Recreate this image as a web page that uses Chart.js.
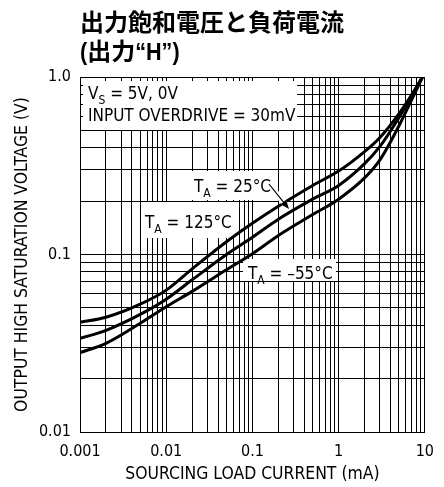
<!DOCTYPE html>
<html lang="ja">
<head>
<meta charset="utf-8">
<title>出力飽和電圧と負荷電流</title>
<script src="https://cdn.jsdelivr.net/npm/chart.js@4.4.1/dist/chart.umd.min.js"></script>
<style>
  html, body { margin: 0; padding: 0; background: #fff; }
  canvas { display: block; }
</style>
</head>
<body>
<canvas id="satChart" width="444" height="487"></canvas>
<script>
// sourcing load current (mA)
const currentMA = [0.001, 0.002, 0.005, 0.01, 0.02, 0.05, 0.1, 0.2, 0.5, 1, 2, 3, 5, 7, 9.4];
// output high saturation voltage (V) per ambient temperature
const vsat125 = [0.0415, 0.0443, 0.0525, 0.063, 0.083, 0.118, 0.150, 0.187, 0.245, 0.295, 0.38, 0.455, 0.62, 0.79, 1.0];
const vsat25  = [0.0337, 0.0374, 0.0460, 0.056, 0.072, 0.100, 0.125, 0.158, 0.205, 0.245, 0.325, 0.405, 0.59, 0.78, 1.0];
const vsatM55 = [0.0280, 0.0316, 0.0410, 0.0508, 0.062, 0.082, 0.101, 0.128, 0.168, 0.205, 0.27, 0.34, 0.53, 0.74, 1.0];

const xTickLabels = ['0.001', '0.01', '0.1', '1', '10'];
const yTickLabels = ['0.01', '0.1', '1.0'];

const FONT = '"DejaVu Sans Condensed", "Liberation Sans Narrow", sans-serif';

// 1..9 per decade so that every grid line is drawn
function logGrid(min, max) {
  const out = [];
  for (let d = Math.log10(min); d < Math.log10(max); d++) {
    for (let m = 1; m <= 9; m++) out.push(+(m * Math.pow(10, d)).toPrecision(3));
  }
  out.push(max);
  return out;
}

function isDecade(v) {
  const l = Math.log10(v);
  return Math.abs(l - Math.round(l)) < 1e-9;
}

function toPoints(ys) {
  return currentMA.map((x, i) => ({ x: x, y: ys[i] }));
}

// T with a subscript, then the rest of the text
function subText(ctx, x, y, main, sub, rest, size) {
  ctx.font = size + 'px ' + FONT;
  ctx.fillText(main, x, y);
  x += ctx.measureText(main).width;
  ctx.font = Math.round(size * 0.72) + 'px ' + FONT;
  ctx.fillText(sub, x, y + size * 0.28);
  x += ctx.measureText(sub).width;
  ctx.font = size + 'px ' + FONT;
  ctx.fillText(rest, x, y);
}

// one piece of the title, optionally squeezed horizontally
function titleRun(ctx, x, y, text, font, sx) {
  ctx.font = font;
  ctx.save();
  ctx.translate(x, y);
  ctx.scale(sx, 1);
  ctx.fillText(text, 0, 0);
  ctx.restore();
  return x + ctx.measureText(text).width * sx;
}

const notes = {
  id: 'notes',
  beforeDatasetsDraw(chart) {
    const ctx = chart.ctx;
    ctx.save();
    ctx.fillStyle = '#fff';
    ctx.fillRect(83, 81, 214, 49);    // conditions box
    ctx.fillRect(189, 171, 82, 29);   // 25°C
    ctx.fillRect(141, 202, 93, 36);   // 125°C
    ctx.fillRect(243, 259, 93, 22);   // -55°C
    ctx.restore();
  },
  afterDatasetsDraw(chart) {
    const ctx = chart.ctx;
    ctx.save();
    ctx.fillStyle = '#000';
    ctx.textBaseline = 'alphabetic';

    subText(ctx, 88, 99, 'V', 'S', ' = 5V, 0V', 17);
    ctx.font = '17px ' + FONT;
    ctx.fillText('INPUT OVERDRIVE = 30mV', 88, 121);

    subText(ctx, 194, 192, 'T', 'A', ' = 25°C', 17);
    subText(ctx, 145, 228, 'T', 'A', ' = 125°C', 17);
    subText(ctx, 248, 279, 'T', 'A', ' = \u201355°C', 17);

    // arrow to the 25°C curve
    const x0 = 269, y0 = 184, x1 = 289, y1 = 209;
    const ang = Math.atan2(y1 - y0, x1 - x0);
    ctx.lineCap = 'butt';
    ctx.strokeStyle = '#fff';
    ctx.lineWidth = 6;
    ctx.beginPath();
    ctx.moveTo(x0 + 10 * Math.cos(ang), y0 + 10 * Math.sin(ang));
    ctx.lineTo(x1, y1);
    ctx.stroke();
    ctx.strokeStyle = '#000';
    ctx.lineWidth = 1.2;
    ctx.beginPath();
    ctx.moveTo(x0, y0);
    ctx.lineTo(x1 - 6 * Math.cos(ang), y1 - 6 * Math.sin(ang));
    ctx.stroke();
    ctx.beginPath();
    ctx.moveTo(x1, y1);
    ctx.lineTo(x1 - 9 * Math.cos(ang) + 3.5 * Math.sin(ang), y1 - 9 * Math.sin(ang) - 3.5 * Math.cos(ang));
    ctx.lineTo(x1 - 9 * Math.cos(ang) - 3.5 * Math.sin(ang), y1 - 9 * Math.sin(ang) + 3.5 * Math.cos(ang));
    ctx.closePath();
    ctx.fill();

    // title
    const cjk = 'bold 24px "Noto Sans CJK JP", sans-serif';
    const latin = 'bold 24px "Liberation Sans", sans-serif';
    ctx.font = cjk;
    ctx.fillText('出力飽和電圧と負荷電流', 80, 31);
    let x = titleRun(ctx, 80, 60, '(', latin, 0.9);
    x = titleRun(ctx, x, 60, '出力', cjk, 1);
    titleRun(ctx, x, 60, '“H”)', latin, 0.9);
    ctx.restore();
  }
};

const curveStyle = {
  borderColor: '#000',
  borderWidth: 3,
  pointRadius: 0,
  fill: false,
  cubicInterpolationMode: 'monotone'
};

new Chart(document.getElementById('satChart'), {
  type: 'line',
  data: {
    datasets: [
      Object.assign({ label: 'TA = 125°C', data: toPoints(vsat125) }, curveStyle),
      Object.assign({ label: 'TA = 25°C', data: toPoints(vsat25) }, curveStyle),
      Object.assign({ label: 'TA = -55°C', data: toPoints(vsatM55) }, curveStyle)
    ]
  },
  options: {
    responsive: false,
    animation: false,
    devicePixelRatio: 1,
    layout: { padding: { top: 77, right: 10, left: 0, bottom: 0 } },
    plugins: {
      legend: { display: false },
      tooltip: { enabled: false }
    },
    scales: {
      x: {
        type: 'logarithmic',
        min: 0.001,
        max: 10,
        afterBuildTicks: s => { s.ticks = logGrid(0.001, 10).map(v => ({ value: v })); },
        afterFit: s => { s.height = 55; },
        grid: { color: '#000', lineWidth: 1, drawTicks: false },
        border: { color: '#000', width: 1 },
        ticks: {
          autoSkip: false,
          maxRotation: 0,
          padding: 10,
          color: '#000',
          font: { family: FONT, size: 16 },
          callback: v => isDecade(v) ? xTickLabels[Math.round(Math.log10(v)) + 3] : ''
        },
        title: {
          display: true,
          text: 'SOURCING LOAD CURRENT (mA)',
          color: '#000',
          font: { family: FONT, size: 17.4 },
          padding: { top: 0, bottom: 2 }
        }
      },
      y: {
        type: 'logarithmic',
        min: 0.01,
        max: 1,
        afterBuildTicks: s => { s.ticks = logGrid(0.01, 1).map(v => ({ value: v })); },
        afterFit: s => { s.width = 80; },
        grid: { color: '#000', lineWidth: 1, drawTicks: false },
        border: { color: '#000', width: 1 },
        ticks: {
          autoSkip: false,
          padding: 9,
          color: '#000',
          font: { family: FONT, size: 16 },
          callback: v => isDecade(v) ? yTickLabels[Math.round(Math.log10(v)) + 2] : ''
        },
        title: {
          display: true,
          text: 'OUTPUT HIGH SATURATION VOLTAGE (V)',
          color: '#000',
          font: { family: FONT, size: 17.4 },
          padding: { top: 12, bottom: 0 }
        }
      }
    }
  },
  plugins: [notes]
});
</script>
</body>
</html>
